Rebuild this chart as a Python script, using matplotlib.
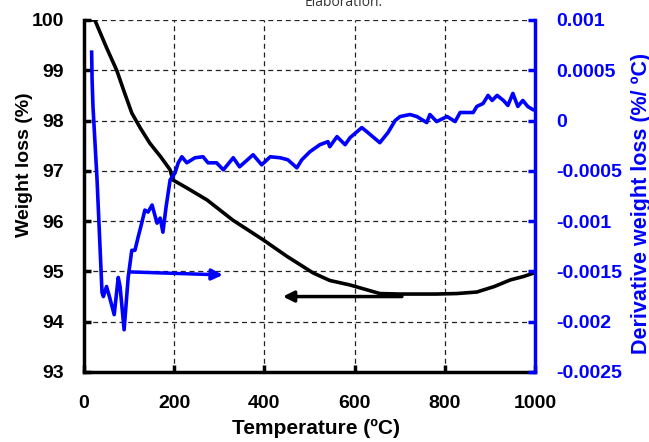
import matplotlib
matplotlib.use("Agg")
import matplotlib.pyplot as plt

# weight curve (left axis)
temp_w = [2, 24, 50, 73, 90, 106, 125, 146, 170, 191, 197, 230, 273, 330, 397,
          450, 508, 545, 590, 656, 700, 780, 827, 871, 910, 945, 975, 998]
weight = [100.0, 100.0, 99.45, 98.99, 98.55, 98.15, 97.85, 97.55, 97.28, 97.02,
          96.82, 96.65, 96.42, 96.02, 95.63, 95.3, 94.97, 94.82, 94.73, 94.56,
          94.55, 94.55, 94.56, 94.59, 94.7, 94.83, 94.9, 94.97]

# derivative curve (right axis)
temp_d = [17, 18, 20, 29, 40, 43, 50, 57, 67, 76, 80, 89, 98, 106, 113, 120, 128,
          135, 142, 151, 162, 169, 175, 182, 191, 202, 209, 217, 228, 246, 264,
          275, 294, 309, 331, 345, 375, 394, 413, 435, 452, 472, 483, 501, 523,
          541, 545, 561, 579, 590, 616, 627, 656, 674, 690, 701, 723, 738, 760,
          767, 782, 805, 823, 834, 863, 871, 885, 896, 905, 916, 930, 940, 951,
          962, 973, 984, 995]
deriv = [0.00068, 0.0004, 0.000135, -0.00059, -0.00171, -0.00175, -0.00165,
         -0.00176, -0.00193, -0.00156, -0.00165, -0.00208, -0.00156, -0.00129,
         -0.00129, -0.00116, -0.00102, -0.00089, -0.00091, -0.00084, -0.00102,
         -0.00097, -0.00111, -0.00086, -0.00059, -0.00052, -0.00042, -0.00036,
         -0.00042, -0.00037, -0.00036, -0.00042, -0.00042, -0.00049, -0.00037,
         -0.00046, -0.00034, -0.00044, -0.00036, -0.00037, -0.00039, -0.00047,
         -0.00039, -0.00031, -0.00024, -0.00021, -0.00026, -0.00016, -0.00024,
         -0.00017, -0.00007, -0.00011, -0.00022, -0.00012, 0.0, 0.00004, 0.00006,
         0.00004, -0.00002, 0.00006, -0.00001, 0.00004, -0.00001, 0.00008,
         0.00008, 0.00014, 0.00017, 0.00025, 0.0002, 0.00025, 0.0002, 0.00015,
         0.00027, 0.00014, 0.0002, 0.00014, 0.00011]

x_ticks = [0, 200, 400, 600, 800, 1000]
left_ticks = [93, 94, 95, 96, 97, 98, 99, 100]
right_ticks = [-0.0025, -0.002, -0.0015, -0.001, -0.0005, 0, 0.0005, 0.001]
right_labels = ["-0.0025", "-0.002", "-0.0015", "-0.001", "-0.0005", "0",
                "0.0005", "0.001"]

plt.rcParams["font.family"] = ["Liberation Sans", "DejaVu Sans"]
BLUE = "#0000ff"

fig = plt.figure(figsize=(6.49, 4.42), dpi=100)
ax = fig.add_axes([0.1294, 0.1584, 0.6949, 0.7964])
ax2 = ax.twinx()

ax.plot(temp_w, weight, color="black", lw=2.6, solid_joinstyle="round")
ax2.plot(temp_d, deriv, color=BLUE, lw=2.6, solid_joinstyle="round")

ax.set_xlim(0, 1000)
ax.set_ylim(93, 100)
ax2.set_ylim(-0.0025, 0.001)
ax.set_xticks(x_ticks)
ax.set_yticks(left_ticks)
ax2.set_yticks(right_ticks)
ax2.set_yticklabels(right_labels)

ax.grid(True, color="#222222", linestyle=(0, (4, 3)), lw=0.9)
ax.set_axisbelow(True)

for s in ["top", "right"]:
    ax.spines[s].set_visible(False)
for s in ["top", "left", "bottom"]:
    ax2.spines[s].set_visible(False)
ax.spines["left"].set_linewidth(2.5)
ax.spines["bottom"].set_linewidth(2.5)
ax2.spines["right"].set_linewidth(2.5)
ax2.spines["right"].set_color(BLUE)

ax.tick_params(axis="y", direction="in", length=5, width=2.5,
               labelsize=14, pad=14.5)
ax.tick_params(axis="x", direction="in", length=5, width=2.5,
               labelsize=14, pad=16.5)
ax2.tick_params(axis="y", direction="in", length=5, width=2.5, colors=BLUE,
                labelsize=14, pad=15)
for lab in ax.get_xticklabels() + ax.get_yticklabels() + ax2.get_yticklabels():
    lab.set_fontweight("bold")

ax.set_xlabel("Temperature (ºC)", fontsize=15, fontweight="bold")
ax.xaxis.set_label_coords(0.515, -0.133)

# y labels placed by their baselines, like the original
ax.text(-0.122, 0.588, "Weight loss (%)", transform=ax.transAxes, rotation=90,
        rotation_mode="anchor", ha="center", va="baseline", fontsize=14,
        fontweight="bold")
ax2.text(1.248, 0.48, "Derivative weight loss (%/ ºC)", transform=ax.transAxes,
         rotation=90, rotation_mode="anchor", ha="center", va="baseline",
         fontsize=15.5, fontweight="bold", color=BLUE)

# arrows pointing each curve to its axis
ax.annotate("", xy=(441, 94.5), xytext=(705, 94.5),
            arrowprops=dict(arrowstyle="-|>", color="black", lw=2.5,
                            mutation_scale=16, shrinkA=0, shrinkB=0))
ax.annotate("", xy=(308, 94.93), xytext=(102, 94.99),
            arrowprops=dict(arrowstyle="-|>", color=BLUE, lw=2.5,
                            mutation_scale=16, shrinkA=0, shrinkB=0))

fig.text(0.53, 0.995, "Elaboration.", ha="center", va="center", fontsize=10,
         color="#333333", family=["Open Sans", "DejaVu Sans"])

fig.savefig("out.png", dpi=100)
